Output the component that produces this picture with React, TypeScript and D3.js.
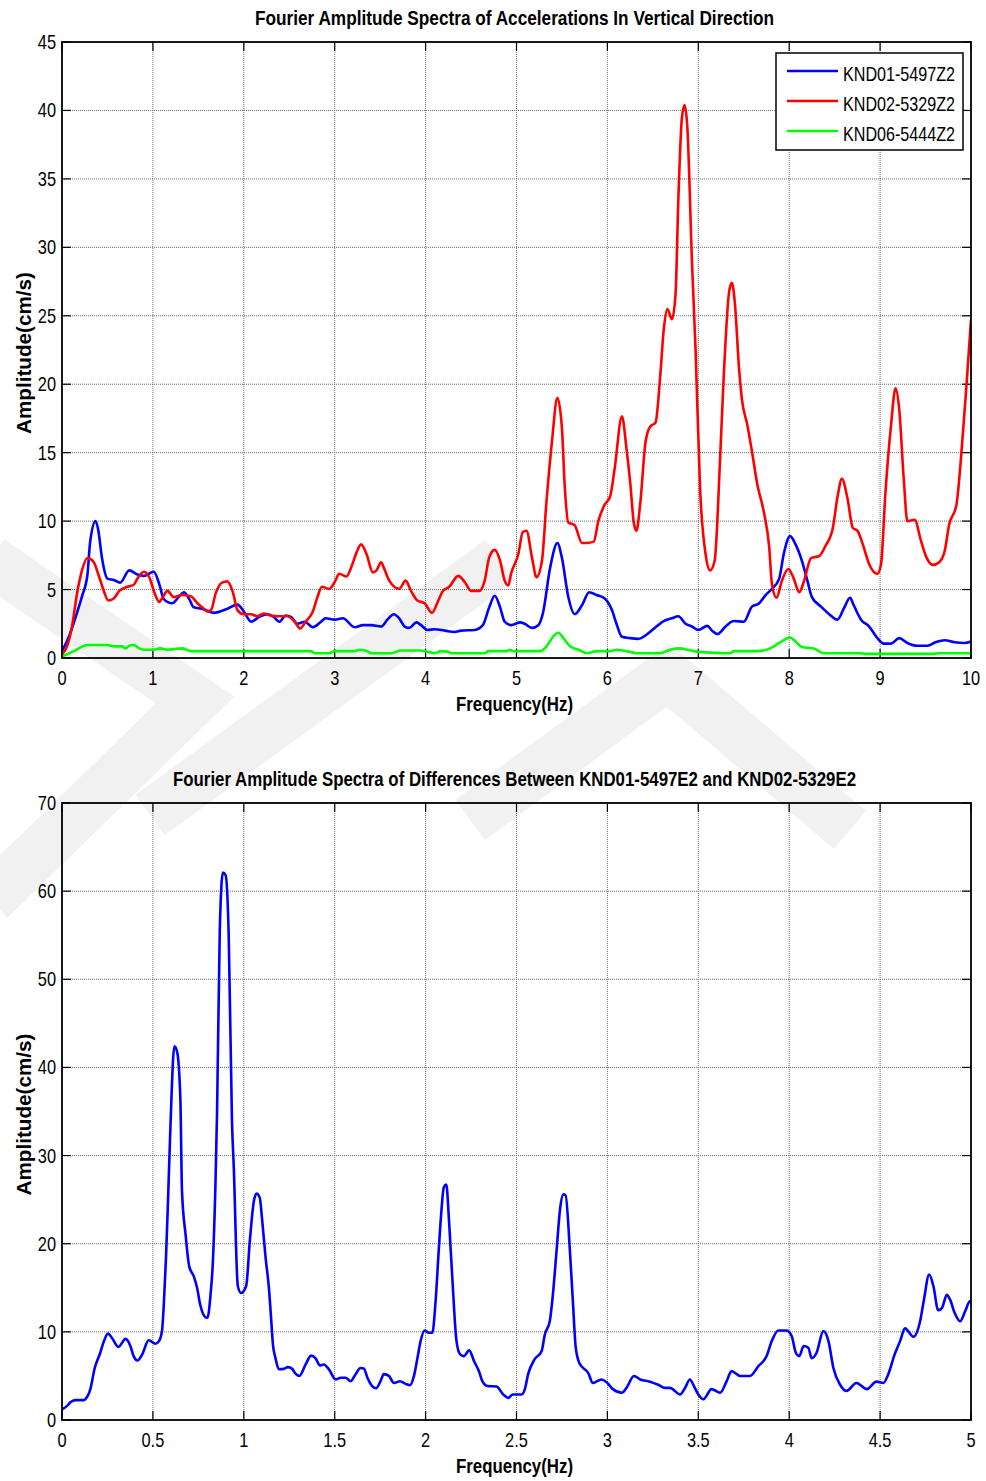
import React from "react";
import * as d3 from "d3";

type Pt = [number, number];

// Vertical-component spectra (frequency in Hz, amplitude in cm/s)
const knd01Z2: Pt[] = [
  [0, 0.5], [0.09, 1.8], [0.165, 3.3], [0.22, 4.5], [0.28, 6.1], [0.31, 8.5], [0.37, 10.0], [0.4, 9.3],
  [0.44, 7.3], [0.5, 5.8], [0.57, 5.7], [0.64, 5.5], [0.74, 6.4], [0.83, 6.1], [0.9, 6.0], [1.01, 6.3],
  [1.07, 5.4], [1.12, 4.3], [1.21, 4.0], [1.29, 4.5], [1.34, 4.8], [1.4, 4.3], [1.45, 3.7], [1.54, 3.6],
  [1.67, 3.3], [1.82, 3.6], [1.93, 3.9], [2.0, 3.4], [2.08, 2.65], [2.17, 3.0], [2.26, 3.2], [2.33, 3.0],
  [2.39, 2.65], [2.46, 3.1], [2.52, 3.0], [2.59, 2.5], [2.67, 2.65], [2.76, 2.25], [2.85, 2.65], [2.9, 2.9],
  [3.0, 2.8], [3.09, 2.9], [3.22, 2.25], [3.31, 2.4], [3.4, 2.4], [3.51, 2.3], [3.58, 2.8], [3.65, 3.2],
  [3.71, 2.9], [3.77, 2.3], [3.82, 2.2], [3.9, 2.6], [3.95, 2.4], [4.02, 2.05], [4.1, 2.1], [4.21, 2.0],
  [4.32, 1.9], [4.39, 2.0], [4.54, 2.05], [4.63, 2.4], [4.7, 3.7], [4.76, 4.55], [4.82, 3.7], [4.87, 2.65],
  [4.94, 2.4], [5.04, 2.6], [5.09, 2.5], [5.17, 2.2], [5.24, 2.4], [5.29, 3.25], [5.37, 6.6], [5.45, 8.4],
  [5.5, 7.3], [5.57, 4.45], [5.64, 3.2], [5.72, 3.85], [5.8, 4.8], [5.88, 4.6], [5.97, 4.35], [6.05, 3.5],
  [6.1, 2.5], [6.16, 1.55], [6.25, 1.45], [6.34, 1.4], [6.43, 1.7], [6.53, 2.25], [6.62, 2.7], [6.71, 2.9],
  [6.78, 3.05], [6.86, 2.5], [6.93, 2.3], [7.0, 2.05], [7.1, 2.35], [7.15, 2.0], [7.21, 1.75], [7.3, 2.3],
  [7.39, 2.7], [7.5, 2.65], [7.59, 3.75], [7.67, 4.0], [7.74, 4.6], [7.81, 5.05], [7.89, 5.8], [7.94, 7.6],
  [8.01, 8.9], [8.07, 8.3], [8.14, 7.1], [8.2, 5.65], [8.25, 4.45], [8.35, 3.75], [8.44, 3.2], [8.53, 2.8],
  [8.6, 3.6], [8.67, 4.4], [8.71, 3.85], [8.79, 2.8], [8.88, 2.3], [8.97, 1.45], [9.04, 1.05], [9.12, 1.05],
  [9.21, 1.45], [9.3, 1.1], [9.41, 0.9], [9.52, 0.9], [9.61, 1.15], [9.71, 1.3], [9.82, 1.15], [9.93, 1.1],
  [10.0, 1.2],
];

const knd02Z2: Pt[] = [
  [0, 0.25], [0.055, 0.85], [0.11, 2.3], [0.165, 4.7], [0.22, 6.4], [0.28, 7.3], [0.35, 7.0], [0.4, 6.1],
  [0.46, 4.9], [0.51, 4.2], [0.57, 4.35], [0.63, 4.9], [0.72, 5.2], [0.79, 5.35], [0.83, 5.8], [0.9, 6.3],
  [0.96, 5.9], [1.01, 4.9], [1.07, 4.1], [1.1, 4.35], [1.16, 4.9], [1.23, 4.45], [1.32, 4.6], [1.42, 4.5],
  [1.49, 4.0], [1.56, 3.6], [1.6, 3.4], [1.64, 3.5], [1.69, 4.7], [1.76, 5.5], [1.82, 5.6], [1.88, 4.8],
  [1.93, 3.5], [2.0, 3.2], [2.08, 3.2], [2.15, 3.05], [2.22, 3.25], [2.3, 3.1], [2.37, 3.05], [2.48, 3.05],
  [2.56, 2.65], [2.62, 2.15], [2.68, 2.65], [2.76, 3.4], [2.81, 4.45], [2.86, 5.2], [2.94, 5.05], [3.0, 5.55],
  [3.05, 6.15], [3.13, 5.95], [3.18, 6.6], [3.24, 7.7], [3.29, 8.3], [3.35, 7.6], [3.42, 6.25], [3.46, 6.4],
  [3.51, 7.0], [3.54, 6.6], [3.6, 5.65], [3.71, 5.05], [3.78, 5.65], [3.84, 4.9], [3.91, 4.2], [3.99, 4.0],
  [4.07, 3.3], [4.14, 4.2], [4.19, 4.9], [4.26, 5.2], [4.36, 6.0], [4.43, 5.55], [4.5, 4.9], [4.59, 4.9],
  [4.65, 5.65], [4.7, 7.35], [4.76, 7.9], [4.82, 7.1], [4.87, 5.65], [4.91, 5.3], [4.94, 6.15], [5.02, 7.6],
  [5.07, 9.2], [5.11, 9.3], [5.17, 7.35], [5.22, 5.9], [5.28, 7.1], [5.33, 11.45], [5.39, 15.8], [5.45, 19.0],
  [5.5, 16.75], [5.53, 12.65], [5.57, 9.9], [5.64, 9.7], [5.72, 8.4], [5.77, 8.4], [5.85, 8.5], [5.9, 10.0],
  [5.97, 11.2], [6.03, 11.8], [6.08, 13.85], [6.16, 17.65], [6.21, 15.3], [6.25, 12.9], [6.29, 9.9], [6.32, 9.3],
  [6.36, 11.2], [6.42, 15.8], [6.47, 16.9], [6.53, 17.2], [6.58, 20.5], [6.62, 24.0], [6.66, 25.5], [6.71, 24.75],
  [6.75, 26.6], [6.78, 33.4], [6.82, 39.5], [6.85, 40.4], [6.88, 38.7], [6.93, 29.0], [6.97, 22.5], [7.02, 12.3],
  [7.08, 7.6], [7.13, 6.4], [7.18, 7.1], [7.24, 14.6], [7.28, 20.6], [7.34, 26.8], [7.37, 27.4], [7.4, 26.1],
  [7.45, 21.0], [7.48, 18.9], [7.54, 17.0], [7.59, 15.1], [7.65, 12.65], [7.72, 10.7], [7.78, 8.1], [7.81, 5.4],
  [7.86, 4.4], [7.92, 5.65], [7.99, 6.5], [8.05, 5.8], [8.11, 4.8], [8.16, 5.55], [8.24, 7.3], [8.33, 7.45],
  [8.4, 8.2], [8.48, 9.5], [8.53, 11.7], [8.58, 13.1], [8.64, 11.7], [8.7, 9.5], [8.75, 9.3], [8.81, 8.3],
  [8.88, 6.85], [8.97, 6.15], [9.01, 6.85], [9.06, 12.2], [9.12, 17.0], [9.17, 19.7], [9.21, 18.2], [9.26, 13.1],
  [9.3, 10.0], [9.38, 10.1], [9.45, 8.55], [9.51, 7.35], [9.58, 6.8], [9.65, 7.0], [9.71, 7.8], [9.76, 9.75],
  [9.84, 11.2], [9.89, 14.6], [9.95, 19.9], [10.0, 24.7],
];

const knd06Z2: Pt[] = [
  [0, 0.1], [0.13, 0.5], [0.28, 0.95], [0.5, 0.95], [0.57, 0.85], [0.66, 0.85], [0.7, 0.7], [0.74, 0.9],
  [0.79, 0.95], [0.85, 0.7], [0.9, 0.6], [1.01, 0.6], [1.08, 0.7], [1.16, 0.6], [1.23, 0.65], [1.32, 0.7],
  [1.42, 0.5], [1.89, 0.5], [2.74, 0.5], [2.78, 0.35], [2.94, 0.35], [3.0, 0.5], [3.22, 0.5], [3.27, 0.6],
  [3.36, 0.5], [3.4, 0.35], [3.62, 0.35], [3.73, 0.55], [3.95, 0.55], [4.02, 0.45], [4.1, 0.35], [4.17, 0.5],
  [4.25, 0.45], [4.28, 0.35], [4.65, 0.35], [4.69, 0.5], [4.89, 0.5], [4.93, 0.6], [4.96, 0.5], [5.26, 0.5],
  [5.33, 0.85], [5.4, 1.55], [5.46, 1.85], [5.51, 1.5], [5.59, 0.85], [5.7, 0.55], [5.77, 0.35], [5.88, 0.5],
  [6.03, 0.5], [6.1, 0.6], [6.21, 0.5], [6.32, 0.35], [6.58, 0.35], [6.69, 0.6], [6.8, 0.7], [6.88, 0.6],
  [7.0, 0.45], [7.35, 0.35], [7.39, 0.5], [7.65, 0.5], [7.79, 0.7], [7.89, 1.1], [7.94, 1.3], [8.01, 1.5],
  [8.07, 1.2], [8.14, 0.8], [8.27, 0.7], [8.38, 0.35], [8.79, 0.35], [8.82, 0.3], [9.6, 0.3], [9.63, 0.35],
  [10.0, 0.35],
];

// Spectrum of the difference record KND01-5497E2 / KND02-5329E2
const diffE2: Pt[] = [
  [0, 1.2], [0.028, 1.6], [0.046, 2.0], [0.073, 2.25], [0.12, 2.25], [0.13, 2.4], [0.156, 3.5], [0.18, 5.9],
  [0.21, 7.6], [0.23, 8.9], [0.253, 9.8], [0.275, 9.3], [0.31, 8.3], [0.35, 9.2], [0.376, 8.4], [0.394, 7.25],
  [0.416, 6.75], [0.44, 7.4], [0.477, 9.05], [0.514, 8.65], [0.532, 8.9], [0.55, 10.1], [0.56, 13.1], [0.572, 18.4],
  [0.583, 24.8], [0.596, 33.0], [0.618, 42.4], [0.633, 41.8], [0.651, 36.5], [0.66, 26.0], [0.68, 21.0], [0.7, 17.4],
  [0.725, 16.3], [0.743, 15.0], [0.76, 13.1], [0.79, 11.65], [0.8, 11.6], [0.817, 14.2], [0.83, 18.0], [0.844, 26.7],
  [0.853, 35.0], [0.868, 55.7], [0.885, 62.1], [0.9, 61.8], [0.917, 55.0], [0.935, 33.9], [0.945, 28.6], [0.967, 15.2],
  [0.985, 14.4], [1.013, 15.2], [1.033, 20.3], [1.055, 24.8], [1.07, 25.7], [1.088, 25.2], [1.1, 22.9], [1.12, 18.4],
  [1.138, 15.0], [1.152, 11.0], [1.16, 8.6], [1.174, 7.05], [1.193, 5.75], [1.22, 5.8], [1.242, 6.0], [1.266, 5.8],
  [1.284, 5.25], [1.306, 5.0], [1.34, 6.3], [1.37, 7.3], [1.395, 7.0], [1.418, 6.2], [1.44, 6.3], [1.468, 5.75],
  [1.505, 4.6], [1.532, 4.8], [1.56, 4.8], [1.587, 4.4], [1.615, 5.2], [1.642, 5.9], [1.66, 5.85], [1.68, 4.8],
  [1.706, 3.85], [1.728, 3.6], [1.752, 4.4], [1.77, 5.2], [1.798, 5.0], [1.826, 4.2], [1.859, 4.4], [1.89, 4.1],
  [1.914, 3.95], [1.936, 5.0], [1.954, 6.9], [1.972, 8.9], [1.994, 10.15], [2.018, 9.9], [2.037, 9.9], [2.055, 13.5],
  [2.073, 19.5], [2.088, 24.0], [2.1, 26.4], [2.114, 26.7], [2.128, 22.9], [2.147, 16.1], [2.17, 8.95], [2.19, 7.45],
  [2.21, 7.25], [2.24, 7.9], [2.266, 6.7], [2.294, 5.5], [2.312, 4.4], [2.34, 3.85], [2.39, 3.8], [2.427, 2.9],
  [2.454, 2.5], [2.48, 2.9], [2.528, 2.9], [2.546, 3.5], [2.564, 5.2], [2.6, 6.9], [2.638, 7.8], [2.656, 9.7],
  [2.683, 11.2], [2.7, 14.2], [2.72, 19.1], [2.74, 24.0], [2.757, 25.6], [2.77, 25.5], [2.794, 19.1], [2.81, 13.5],
  [2.826, 8.2], [2.845, 6.5], [2.867, 5.9], [2.894, 5.35], [2.92, 4.2], [2.968, 4.6], [2.995, 4.3], [3.03, 3.5],
  [3.08, 3.1], [3.105, 3.65], [3.146, 5.0], [3.18, 4.6], [3.234, 4.35], [3.28, 4.0], [3.316, 3.65], [3.344, 3.65],
  [3.4, 2.9], [3.426, 3.6], [3.454, 4.6], [3.476, 3.85], [3.5, 2.9], [3.528, 2.35], [3.573, 3.5], [3.62, 3.1],
  [3.656, 4.4], [3.683, 5.55], [3.73, 5.0], [3.784, 5.0], [3.83, 6.1], [3.876, 7.25], [3.904, 8.95], [3.94, 10.15],
  [3.986, 10.15], [4.014, 9.5], [4.037, 7.6], [4.055, 7.25], [4.08, 8.4], [4.105, 8.2], [4.124, 7.0], [4.15, 7.6],
  [4.188, 10.1], [4.216, 8.95], [4.243, 5.9], [4.28, 4.0], [4.316, 3.3], [4.37, 4.2], [4.427, 3.5], [4.48, 4.35],
  [4.518, 4.2], [4.545, 5.2], [4.58, 7.45], [4.61, 8.95], [4.637, 10.4], [4.683, 9.45], [4.72, 11.2], [4.74, 13.5],
  [4.77, 16.5], [4.793, 15.2], [4.82, 12.45], [4.84, 12.7], [4.867, 14.2], [4.885, 13.65], [4.91, 12.15], [4.94, 11.2],
  [4.968, 12.35], [4.995, 13.5], [5.0, 13.3],
];

const topXTicks = [0, 1, 2, 3, 4, 5, 6, 7, 8, 9, 10];
const topYTicks = [0, 5, 10, 15, 20, 25, 30, 35, 40, 45];
const botXTicks = [0, 0.5, 1, 1.5, 2, 2.5, 3, 3.5, 4, 4.5, 5];
const botYTicks = [0, 10, 20, 30, 40, 50, 60, 70];

const topSeries = [
  { name: "KND01-5497Z2", color: "#0000ff", data: knd01Z2 },
  { name: "KND02-5329Z2", color: "#ff0000", data: knd02Z2 },
  { name: "KND06-5444Z2", color: "#00ff00", data: knd06Z2 },
];
const botSeries = [{ name: "diff", color: "#0000ff", data: diffE2 }];

const FONT = "'Liberation Sans', Arial, Helvetica, sans-serif";
const NARROW = 0.82;

type LabelProps = {
  x: number;
  y: number;
  text: string;
  size?: number;
  bold?: boolean;
  anchor?: "start" | "middle" | "end";
  sx?: number;
  rotate?: number;
  len?: number;
};

function Label({ x, y, text, size = 20, bold = false, anchor = "middle", sx = NARROW, rotate = 0, len }: LabelProps) {
  return (
    <text
      transform={`translate(${x},${y}) rotate(${rotate}) scale(${sx},1)`}
      fontFamily={FONT}
      fontSize={size}
      fontWeight={bold ? "bold" : "normal"}
      textAnchor={anchor}
      textLength={len ? len / sx : undefined}
      lengthAdjust={len ? "spacingAndGlyphs" : undefined}
      fill="#000"
    >
      {text}
    </text>
  );
}

type PanelProps = {
  id: string;
  top: number;
  bottom: number;
  left: number;
  right: number;
  xMax: number;
  yMax: number;
  xTicks: number[];
  yTicks: number[];
  title: string;
  titleLen: number;
  series: { name: string; color: string; data: Pt[] }[];
  legend?: boolean;
};

function Panel({ id, top, bottom, left, right, xMax, yMax, xTicks, yTicks, title, titleLen, series, legend }: PanelProps) {
  const x = d3.scaleLinear().domain([0, xMax]).range([left, right]);
  const y = d3.scaleLinear().domain([0, yMax]).range([bottom, top]);
  const line = d3
    .line<Pt>()
    .x((d) => x(d[0]))
    .y((d) => y(d[1]))
    .curve(d3.curveMonotoneX);
  const fmt = d3.format("~g");
  const tick = 9;
  const cx = (left + right) / 2;

  return (
    <g>
      <defs>
        <clipPath id={`clip-${id}`}>
          <rect x={left} y={top} width={right - left} height={bottom - top} />
        </clipPath>
      </defs>

      {/* grid */}
      <g stroke="#6a6a6a" strokeWidth={1} strokeDasharray="1,1">
        {xTicks.slice(1, -1).map((t) => (
          <line key={`gx${t}`} x1={x(t)} x2={x(t)} y1={top} y2={bottom} />
        ))}
        {yTicks.slice(1, -1).map((t) => (
          <line key={`gy${t}`} x1={left} x2={right} y1={y(t)} y2={y(t)} />
        ))}
      </g>

      {/* inward ticks on all four sides */}
      <g stroke="#000" strokeWidth={1.2}>
        {xTicks.map((t) => (
          <g key={`tx${t}`}>
            <line x1={x(t)} x2={x(t)} y1={bottom} y2={bottom - tick} />
            <line x1={x(t)} x2={x(t)} y1={top} y2={top + tick} />
          </g>
        ))}
        {yTicks.map((t) => (
          <g key={`ty${t}`}>
            <line x1={left} x2={left + tick} y1={y(t)} y2={y(t)} />
            <line x1={right} x2={right - tick} y1={y(t)} y2={y(t)} />
          </g>
        ))}
      </g>

      {/* spectra */}
      <g clipPath={`url(#clip-${id})`} fill="none" strokeWidth={2.6} strokeLinejoin="round" strokeLinecap="round">
        {series.map((s) => (
          <path key={s.name} d={line(s.data) || ""} stroke={s.color} />
        ))}
      </g>

      {/* frame */}
      <rect x={left} y={top} width={right - left} height={bottom - top} fill="none" stroke="#000" strokeWidth={1.8} />

      {/* tick labels */}
      {xTicks.map((t) => (
        <Label key={`lx${t}`} x={x(t)} y={bottom + 26.5} text={fmt(t)} />
      ))}
      {yTicks.map((t) => (
        <Label key={`ly${t}`} x={56} y={y(t) + 7} text={fmt(t)} anchor="end" />
      ))}

      {/* titles */}
      <Label x={cx - 2} y={top - 17} text={title} bold len={titleLen} />
      <Label x={cx - 2} y={bottom + 53} text="Frequency(Hz)" bold len={117} />
      <Label x={31} y={(top + bottom) / 2 + 3} text="Amplitude(cm/s)" bold sx={1} rotate={-90} len={162} size={20} />

      {legend && (
        <g>
          <rect x={776} y={53} width={187} height={97} fill="#fff" stroke="#000" strokeWidth={1.5} />
          {series.map((s, i) => {
            const ry = 71 + i * 30;
            return (
              <g key={`lg${s.name}`}>
                <line x1={787} x2={838} y1={ry} y2={ry} stroke={s.color} strokeWidth={2.6} />
                <Label x={843} y={ry + 10} text={s.name} anchor="start" len={112} />
              </g>
            );
          })}
        </g>
      )}
    </g>
  );
}

export default function App() {
  return (
    <svg
      width={986}
      height={1481}
      viewBox="0 0 986 1481"
      style={{ position: "absolute", left: 0, top: 0, background: "#fff" }}
    >
      <rect x={0} y={0} width={986} height={1481} fill="#fff" />

      {/* faint background watermark */}
      <g fill="none" stroke="#000" strokeOpacity={0.055} strokeWidth={50} strokeLinejoin="miter">
        <path d="M-10,560 L195,700 L-10,900" />
        <path d="M150,815 L500,560" />
        <path d="M470,820 L668,675 L850,830" />
      </g>

      <Panel
        id="top"
        top={42}
        bottom={658}
        left={62}
        right={971}
        xMax={10}
        yMax={45}
        xTicks={topXTicks}
        yTicks={topYTicks}
        title="Fourier Amplitude Spectra of Accelerations In Vertical Direction"
        titleLen={519}
        series={topSeries}
        legend
      />
      <Panel
        id="bottom"
        top={803}
        bottom={1420}
        left={62}
        right={971}
        xMax={5}
        yMax={70}
        xTicks={botXTicks}
        yTicks={botYTicks}
        title="Fourier Amplitude Spectra of Differences Between KND01-5497E2 and KND02-5329E2"
        titleLen={683}
        series={botSeries}
      />
    </svg>
  );
}
